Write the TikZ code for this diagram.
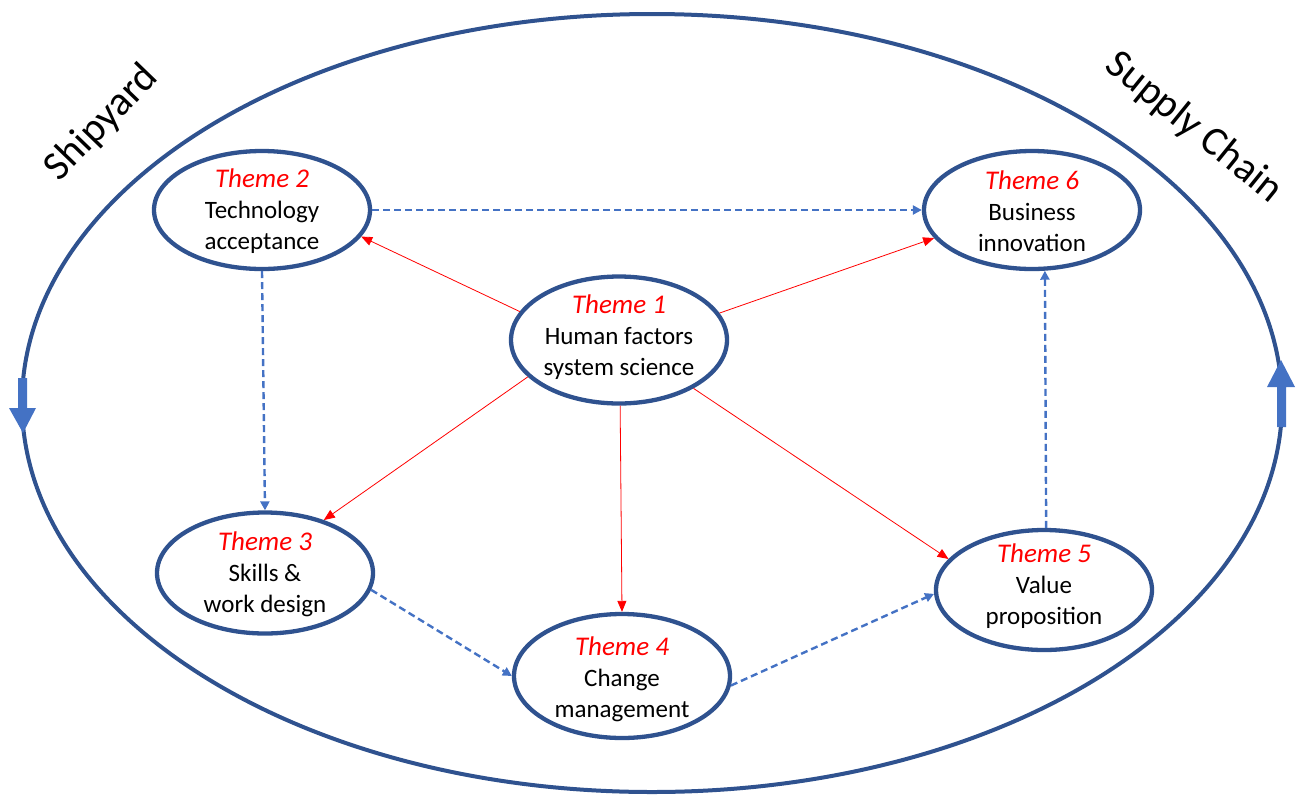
\documentclass[tikz,border=0pt]{standalone}
\usepackage{fontspec}
\setmainfont{Carlito}
\usetikzlibrary{shapes.geometric,arrows.meta}
\definecolor{rim}{RGB}{47,82,143}
\definecolor{accent}{RGB}{68,114,196}
\definecolor{themered}{RGB}{255,0,0}
\newcommand{\themetag}[1]{{\fontsize{27}{31}\selectfont\itshape\color{themered}#1}}
\begin{document}
\begin{tikzpicture}[x=1pt,y=-1pt,
  ring/.style={ellipse,draw=rim,line width=4.3pt,inner sep=0pt,
    minimum width=216pt,minimum height=118pt},
  label text/.style={align=center,inner sep=0pt,
    font=\fontsize{25}{31}\selectfont},
  influence/.style={draw=themered,line width=0.8pt,
    -{Triangle[length=11pt,width=9pt]}},
  flow/.style={draw=accent,line width=2.4pt,dash pattern=on 7pt off 4pt,
    -{Triangle[length=9pt,width=9pt]}},
  side/.style={font=\fontsize{41}{44}\selectfont},
]
\useasboundingbox (0,0) rectangle (1301,796);

% outer boundary
\draw[rim,line width=4pt] (652,403) ellipse [x radius=630pt,y radius=389pt];

% direction markers on the boundary
\fill[accent] (18,378) -- (27,378) -- (27,408) -- (36,408) -- (23,433)
  -- (9,408) -- (18,408) -- cycle;
\fill[accent] (1277,427) -- (1286,427) -- (1286,387) -- (1295,387) -- (1281,360)
  -- (1267,387) -- (1277,387) -- cycle;

% side captions
\node[side,rotate=46] (shipyard) at (102,123) {Shipyard};
\node[side,rotate=-39] (supply) at (1194,128) {Supply Chain};

% themes
\node[ring,minimum height=127pt] (t1) at (619,340) {};
\node[ring] (t2) at (262,210) {};
\node[ring,minimum height=121pt] (t3) at (265,573) {};
\node[ring,minimum height=124pt] (t4) at (622,676) {};
\node[ring,minimum height=120pt] (t5) at (1044,590) {};
\node[ring] (t6) at (1032,210) {};

\node[label text] (l1) at (619,337) {\themetag{Theme 1}\\Human factors\\system science};
\node[label text] (l2) at (262,211) {\themetag{Theme 2}\\Technology\\acceptance};
\node[label text] (l3) at (265,574) {\themetag{Theme 3}\\Skills \&\\work design};
\node[label text] (l4) at (622,679) {\themetag{Theme 4}\\Change\\management};
\node[label text] (l5) at (1044,586) {\themetag{Theme 5}\\Value\\proposition};
\node[label text] (l6) at (1032,211) {\themetag{Theme 6}\\Business\\innovation};

% influence of theme 1
\draw[influence] (t1.164) -- (t2.-15);
\draw[influence] (t1.15) -- (t6.196);
\draw[influence] (t1.202) -- (t3.42);
\draw[influence] (t1.-89) -- (t4.90);
\draw[influence] (t1.-33) -- (t5.162);

% progression between themes
\draw[flow] (t2.east) -- (t6.west);
\draw[flow] (t2.south) -- (t3.north);
\draw[flow] (t3.-9) -- (t4.west);
\draw[flow] (t4.-5) -- (t5.182);
\draw[flow] (t5.88) -- (t6.-78);
\end{tikzpicture}
\end{document}
